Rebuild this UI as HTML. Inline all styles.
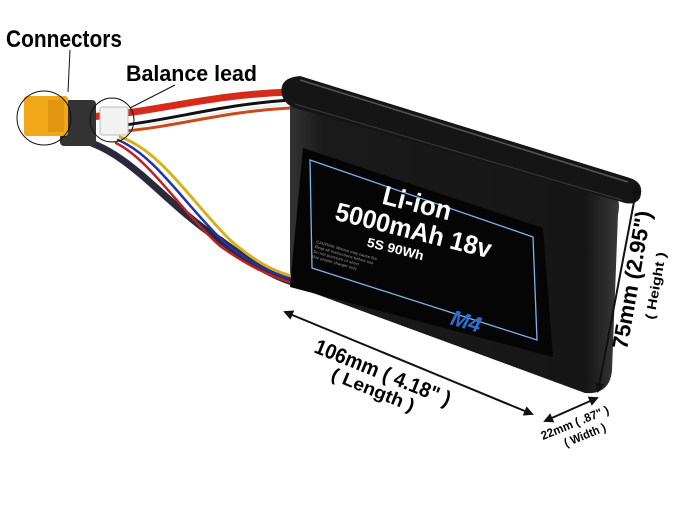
<!DOCTYPE html>
<html><head><meta charset="utf-8"><style>
html,body{margin:0;padding:0;background:#fff;width:686px;height:511px;overflow:hidden}
svg{display:block}
text{font-family:"Liberation Sans",sans-serif;font-weight:bold}
</style></head><body>
<svg width="686" height="511" viewBox="0 0 686 511" xmlns="http://www.w3.org/2000/svg">
<defs>
<linearGradient id="bg" x1="0" y1="0" x2="1" y2="0">
<stop offset="0" stop-color="#333"/><stop offset="0.1" stop-color="#1a1a1a"/><stop offset="0.9" stop-color="#161616"/><stop offset="1" stop-color="#3a3a3a"/></linearGradient>
<marker id="ah" markerWidth="10" markerHeight="10" refX="8" refY="5" orient="auto-start-reverse" markerUnits="userSpaceOnUse"><path d="M0,0 L10,5 L0,10 Z" fill="#111"/></marker>
</defs>
<g fill="none" stroke-linecap="round">
<path d="M70,118 C150,115 200,95 290,92" stroke="#d62a1a" stroke-width="7"/>
<path d="M125,125 C180,118 220,105 290,100" stroke="#111" stroke-width="3"/>
<path d="M125,128 C180,122 220,110 290,104" stroke="#eee" stroke-width="2"/>
<path d="M125,131 C180,126 220,112 290,108" stroke="#c94b1a" stroke-width="3"/>
<path d="M75,138 C130,150 160,200 220,240 C250,262 270,275 292,282" stroke="#2a2a3a" stroke-width="7"/>
<path d="M120,137 C160,150 190,200 230,240 C255,262 275,272 292,276" stroke="#d8b01a" stroke-width="3"/>
<path d="M118,140 C155,155 185,205 225,243 C250,263 272,274 292,279" stroke="#2233aa" stroke-width="2.5"/>
<path d="M116,143 C150,160 180,210 220,246 C248,266 270,276 292,283" stroke="#c02020" stroke-width="2.5"/>
</g>
<rect x="60" y="100" width="36" height="46" rx="4" fill="#333"/>
<rect x="24" y="96" width="44" height="40" rx="3" fill="#f0a818"/>
<rect x="48" y="100" width="16" height="32" fill="#e09610"/>
<rect x="100" y="107" width="28" height="28" rx="2" fill="#f2f2f2" stroke="#bbb"/>
<circle cx="44" cy="118" r="27" fill="none" stroke="#111" stroke-width="1"/>
<circle cx="112" cy="120" r="22" fill="none" stroke="#111" stroke-width="1"/>
<line x1="70" y1="50" x2="68" y2="92" stroke="#111"/>
<line x1="175" y1="85" x2="130" y2="108" stroke="#111"/>
<text x="6" y="47" font-size="24" fill="#000" textLength="116" lengthAdjust="spacingAndGlyphs">Connectors</text>
<text x="126" y="81" font-size="22" fill="#000" textLength="131" lengthAdjust="spacingAndGlyphs">Balance lead</text>
<path d="M290,100 L618,200 Q620,205 618,215 L612,370 Q610,395 585,393 L305,290 Q290,284 290,270 Z" fill="url(#bg)"/>
<path d="M282,95 Q278,78 300,76 L630,178 Q645,183 640,198 Q636,205 625,203 L295,108 Q284,104 282,95 Z" fill="#151515"/>
<path d="M300,80 L628,182" stroke="#555" stroke-width="1.5" fill="none"/>
<path d="M295,104 L622,200" stroke="#3a3a3a" stroke-width="1" fill="none"/>
<polygon points="303,148 543,228 553,357 290,287" fill="#050505"/>
<polygon points="310,160 533,237 537,340 312,268" fill="none" stroke="#7ab4e6" stroke-width="1.3"/>
<g transform="translate(415,212) rotate(14)" fill="#fff" text-anchor="middle">
<text x="0" y="0" font-size="27" textLength="70" lengthAdjust="spacingAndGlyphs">Li-ion</text>
<text x="3" y="27" font-size="26" textLength="160" lengthAdjust="spacingAndGlyphs">5000mAh 18v</text>
<text x="-10" y="45" font-size="13" textLength="58" lengthAdjust="spacingAndGlyphs">5S 90Wh</text>
</g>
<g transform="translate(316,243) rotate(16)" fill="#777" font-size="4">
<text x="0" y="0">CAUTION: Misuse may cause fire</text><text x="0" y="5">Read all instructions before use</text><text x="0" y="10">Do not puncture or short</text><text x="0" y="15">Use proper charger only</text>
</g>
<text x="450" y="330" transform="rotate(16 470 325)" font-size="22" fill="#2d6fd1" font-style="italic">M4</text>
<line x1="285" y1="312" x2="532" y2="414" stroke="#111" stroke-width="2" marker-start="url(#ah)" marker-end="url(#ah)"/>
<line x1="637" y1="186" x2="598" y2="391" stroke="#111" stroke-width="2" marker-start="url(#ah)" marker-end="url(#ah)"/>
<line x1="597" y1="398" x2="545" y2="421" stroke="#111" stroke-width="2" marker-start="url(#ah)" marker-end="url(#ah)"/>
<g fill="#000">
<text transform="translate(313,352) rotate(22)" font-size="21" textLength="145" lengthAdjust="spacingAndGlyphs">106mm ( 4.18" )</text>
<text transform="translate(330,379) rotate(22)" font-size="18" textLength="88" lengthAdjust="spacingAndGlyphs">( Length )</text>
<text transform="translate(627,350) rotate(-80)" font-size="22" textLength="140" lengthAdjust="spacingAndGlyphs">75mm (2.95")</text>
<text transform="translate(654,320) rotate(-80)" font-size="13" textLength="68" lengthAdjust="spacingAndGlyphs">( Height )</text>
<text transform="translate(543,440) rotate(-22)" font-size="12" textLength="72" lengthAdjust="spacingAndGlyphs">22mm ( .87" )</text>
<text transform="translate(566,447) rotate(-22)" font-size="12" textLength="44" lengthAdjust="spacingAndGlyphs">( Width )</text>
</g>
</svg>
</body></html>
